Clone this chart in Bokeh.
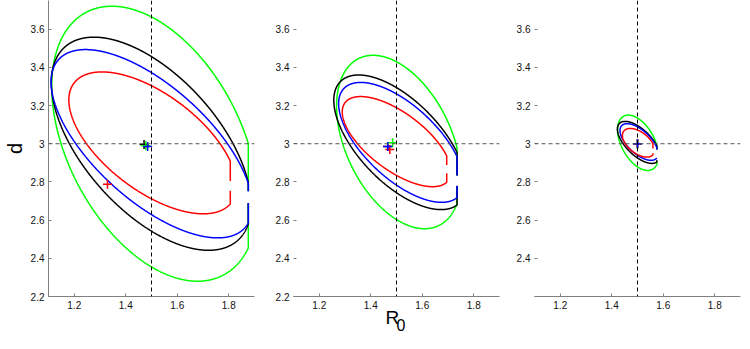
import numpy as np
from bokeh.plotting import figure
from bokeh.layouts import row
from bokeh.models import Range1d, FixedTicker, Span, Title
from bokeh.embed import file_html
from bokeh.resources import INLINE

# ---------------- data ----------------
colors = ["#00ff00", "#000000", "#0000ff", "#ff0000"]   # green, black, blue, red

# confidence contours: centre (R0, d), sd of R0, sd of d, correlation
p1_cx = [1.5125, 1.499, 1.5005, 1.5045]
p1_cy = [3.0, 3.0, 3.0, 3.0045]
p1_sx = [0.400, 0.388, 0.3906, 0.3255]
p1_sy = [0.720, 0.558, 0.493, 0.3715]
p1_rho = [-0.416, -0.574, -0.657, -0.604]

p2_cx = [1.509, 1.513, 1.518, 1.5005]
p2_cy = [3.009, 3.0075, 3.007, 3.011]
p2_sx = [0.2417, 0.2565, 0.2427, 0.2111]
p2_sy = [0.454, 0.3525, 0.314, 0.236]
p2_rho = [-0.414, -0.624, -0.647, -0.661]

p3_cx = [1.502, 1.504, 1.506, 1.504]
p3_cy = [3.005, 3.007, 3.009, 3.005]
p3_sx = [0.0794, 0.082, 0.074, 0.0626]
p3_sy = [0.145, 0.110, 0.096, 0.075]
p3_rho = [-0.471, -0.634, -0.629, -0.511]

# upper R0 limit of each contour set and the opening at that limit (d range)
cut_outer = [1.876, 1.735, 1.575]
gap_outer_lo = [2.69, 2.78, 2.913]
gap_outer_hi = [2.75, 2.833, 2.97]
cut_red = [1.806, 1.695, 1.56]
gap_red_lo = [2.755, 2.846, 2.95]
gap_red_hi = [2.805, 2.888, 2.975]

# point estimates (+)
p1_est_r0 = [1.478, 1.471, 1.485, 1.329]
p1_est_d = [2.99, 2.996, 2.985, 2.788]
p2_est_r0 = [1.485, 1.466, 1.466, 1.474]
p2_est_d = [3.005, 2.985, 2.985, 2.97]
p3_est_r0 = [1.5, 1.5, 1.5, 1.5]
p3_est_d = [3.0, 3.0, 3.0, 3.0]

true_r0 = 1.5
true_d = 3.0

x_ticks = [1.2, 1.4, 1.6, 1.8]
y_ticks = [2.2, 2.4, 2.6, 2.8, 3.0, 3.2, 3.4, 3.6]

panels = [
    (p1_cx, p1_cy, p1_sx, p1_sy, p1_rho, p1_est_r0, p1_est_d),
    (p2_cx, p2_cy, p2_sx, p2_sy, p2_rho, p2_est_r0, p2_est_d),
    (p3_cx, p3_cy, p3_sx, p3_sy, p3_rho, p3_est_r0, p3_est_d),
]

FONT = "Liberation Sans"
AX = "#808080"


def contour(cx, cy, sx, sy, rho, xcut, glo, ghi):
    t = np.linspace(np.pi, 3 * np.pi, 1441)
    x = cx + sx * np.cos(t)
    y = cy + sy * (rho * np.cos(t) + np.sqrt(1 - rho ** 2) * np.sin(t))
    x = np.minimum(x, xcut)
    m = (x >= xcut - 1e-12) & (y > glo) & (y < ghi)
    x = x.astype(float)
    y = y.astype(float)
    x[m] = np.nan
    y[m] = np.nan
    return x, y


borders = [(41, 14), (25, 10), (25, 1)]
figs = []
for i, (cx, cy, sx, sy, rho, er, ed) in enumerate(panels):
    bl, br = borders[i]
    p = figure(frame_width=206, frame_height=296,
               x_range=Range1d(1.1, 1.9), y_range=Range1d(2.2, 3.75),
               min_border_left=bl, min_border_right=br,
               min_border_top=0, min_border_bottom=37,
               output_backend="svg", toolbar_location=None)
    p.outline_line_color = None
    p.grid.visible = False
    p.background_fill_color = "white"
    p.border_fill_color = "white"

    for ax in (p.xaxis[0], p.yaxis[0]):
        ax.major_tick_in = 3
        ax.major_tick_out = 0
        ax.minor_tick_line_color = None
        ax.major_tick_line_color = AX
        ax.axis_line_color = AX
        ax.major_label_text_font = FONT
        ax.major_label_text_font_size = "10px"
        ax.major_label_text_color = "#111111"
        ax.major_label_standoff = 4
    p.xaxis.ticker = FixedTicker(ticks=x_ticks)
    p.yaxis.ticker = FixedTicker(ticks=y_ticks)
    if i == 2:
        p.yaxis.major_label_overrides = {3: "3", 2.2: ""}
    else:
        p.yaxis.major_label_overrides = {3: "3"}
    if i > 0:
        p.yaxis.axis_line_color = None

    if i == 0:
        p.yaxis.axis_label = "d"
        p.yaxis.axis_label_text_font = FONT
        p.yaxis.axis_label_text_font_size = "20px"
        p.yaxis.axis_label_text_font_style = "normal"
        p.yaxis.axis_label_text_color = "#000000"
        p.yaxis.axis_label_standoff = 2

    p.add_layout(Span(location=true_r0, dimension="height", line_color="#000000",
                      line_dash="4 3", line_width=1))
    p.add_layout(Span(location=true_d, dimension="width", line_color="#555555",
                      line_dash="4 3", line_width=1))

    for k in range(4):
        if k < 3:
            xc, glo, ghi = cut_outer[i], gap_outer_lo[i], gap_outer_hi[i]
        else:
            xc, glo, ghi = cut_red[i], gap_red_lo[i], gap_red_hi[i]
        xs, ys = contour(cx[k], cy[k], sx[k], sy[k], rho[k], xc, glo, ghi)
        p.line(xs, ys, line_color=colors[k], line_width=1.5)

    for k in [1, 0, 3, 2]:
        p.scatter([er[k]], [ed[k]], marker="cross", size=9,
                  line_color=colors[k], line_width=1.5)

    if i == 1:
        p.add_layout(Title(text="R", align="left", offset=92, standoff=-9,
                           vertical_align="top",
                           text_font=FONT, text_font_size="19px",
                           text_font_style="normal", text_color="#000000"), "below")
        p.add_layout(Title(text="0", align="left", offset=103, standoff=-14,
                           vertical_align="top",
                           text_font=FONT, text_font_size="16px",
                           text_font_style="normal", text_color="#000000"), "below")
    figs.append(p)

layout = row(*figs)
open("out.html", "w").write(file_html(layout, INLINE))
